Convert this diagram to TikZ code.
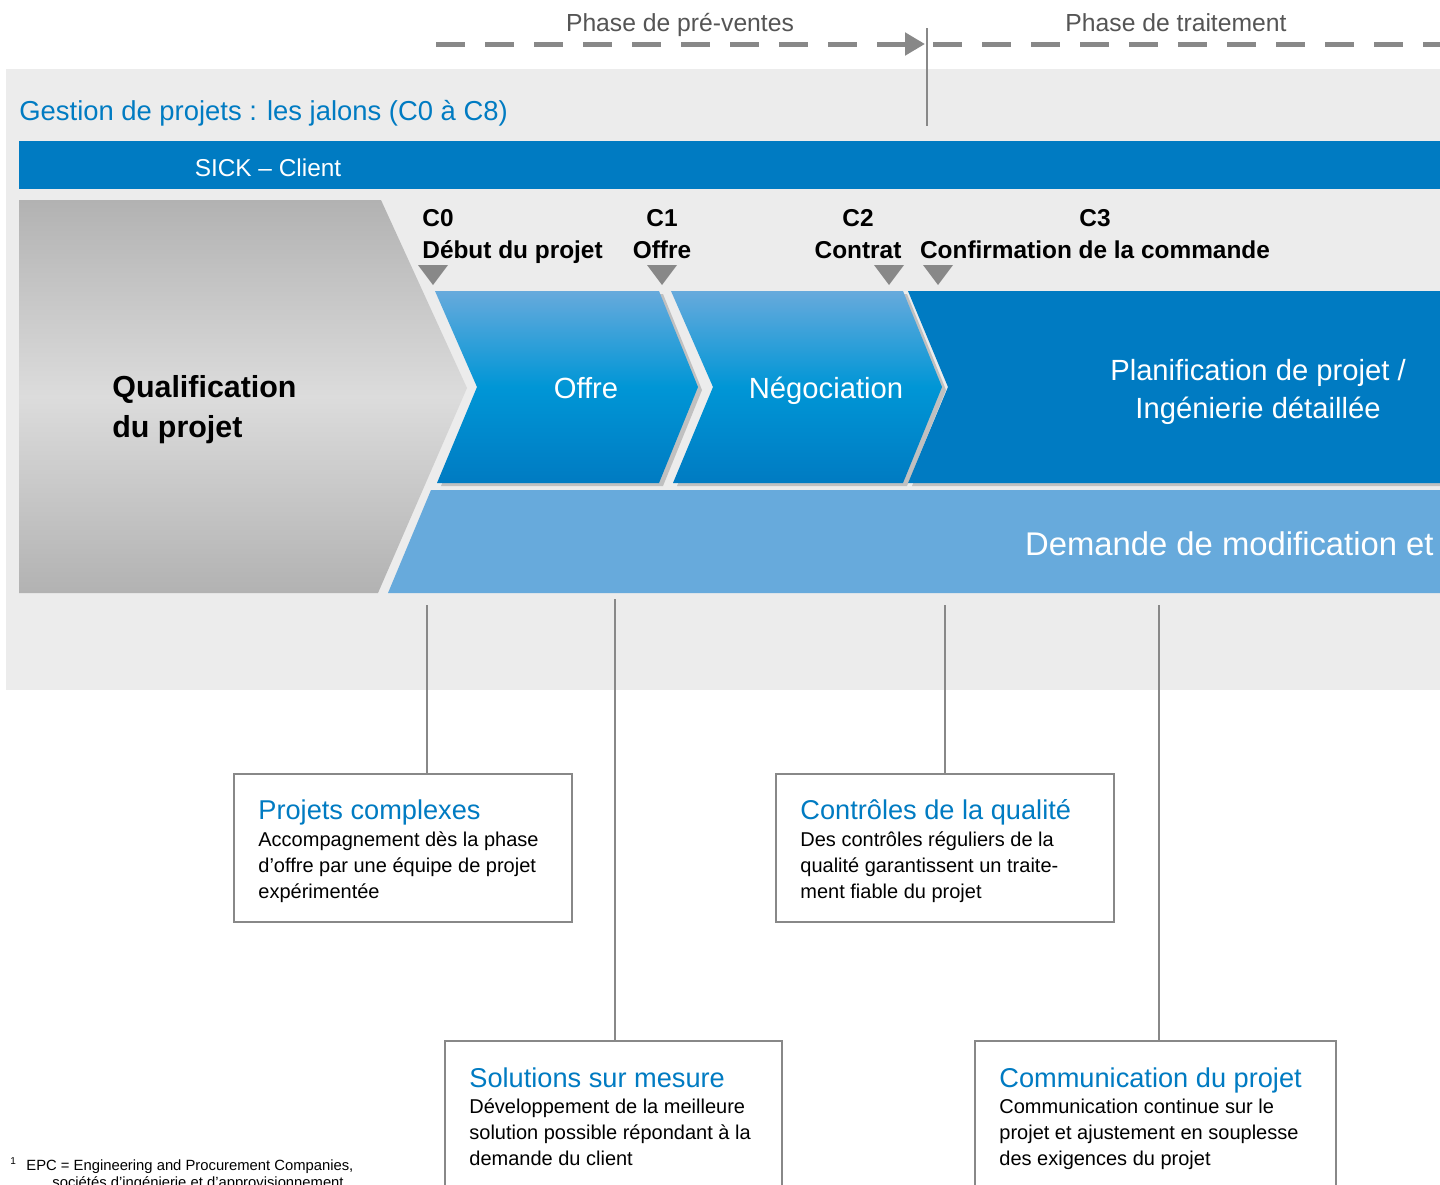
\documentclass[tikz,border=0pt]{standalone}
\usepackage{fontspec}
\setmainfont{Liberation Sans}
\usetikzlibrary{arrows.meta,shadows}
\definecolor{sickblue}{HTML}{007BC2}
\definecolor{lightblue}{HTML}{67AADC}
\definecolor{midblue}{HTML}{0096D6}
\definecolor{bggray}{HTML}{ECECEC}
\definecolor{linegray}{HTML}{888888}
\definecolor{textgray}{HTML}{555555}
\definecolor{qdark}{HTML}{B2B2B2}
\definecolor{qlight}{HTML}{DCDCDC}

\begin{document}
\begin{tikzpicture}[x=0.5pt,y=-0.5pt,
  lbl/.style={font=\fontsize{12.2}{14}\selectfont\bfseries,anchor=base,inner sep=0pt},
  conn/.style={draw=linegray,line width=1pt},
  box/.style={draw=linegray,line width=1.3pt,fill=white,inner sep=0pt,minimum height=74pt},
  boxhead/.style={anchor=base west,text=sickblue,font=\fontsize{13.6}{16}\selectfont,inner sep=0pt},
  boxtext/.style={anchor=base west,align=left,font=\fontsize{10}{13}\selectfont,inner sep=0pt},
  shad/.style={drop shadow={shadow xshift=2pt,shadow yshift=-1.5pt,fill=black!45,opacity=0.45}},
  arrowbox/.style={shad,top color=lightblue,bottom color=sickblue,middle color=midblue},
  big/.style={text=white,font=\fontsize{14.6}{19}\selectfont,inner sep=0pt,anchor=base}]
\path[use as bounding box,fill=white] (0,0) rectangle (1440,1184);
\clip (0,0) rectangle (1440,1184);

\coordinate (d0) at (436,44);
\coordinate (d1) at (925,44);
\coordinate (d2) at (933,44);
\coordinate (d3) at (1440,44);
\draw[linegray,line width=2.5pt,dash pattern=on 14.5pt off 10pt,-{Triangle[length=10pt,width=11pt]}] (d0) -- (d1);
\draw[linegray,line width=2.5pt,dash pattern=on 14.5pt off 10pt] (d2) -- (d3);
\node[text=textgray,font=\fontsize{12.35}{14}\selectfont,anchor=base,inner sep=0pt] (ph1) at (680,31) {Phase de pré-ventes};
\node[text=textgray,font=\fontsize{12.35}{14}\selectfont,anchor=base,inner sep=0pt] (ph2) at (1176,31) {Phase de traitement};

\fill[bggray] (6,69) rectangle (1440,690);
\coordinate (v0) at (927,28);
\coordinate (v1) at (927,126);
\draw[linegray,line width=1pt] (v0) -- (v1);

\node[anchor=base west,text=sickblue,font=\fontsize{13.7}{16}\selectfont,inner sep=0pt] (gp) at (19,120) {Gestion de projets : les jalons (C0 à C8)};
\fill[sickblue] (19,141) rectangle (1440,189);
\node[anchor=base,text=white,font=\fontsize{12.2}{14}\selectfont,inner sep=0pt] (sc) at (268,176) {SICK – Client};

\path[top color=qdark,bottom color=qdark,middle color=qlight] (19,200) -- (381,200) -- (467,388) -- (378,593) -- (19,593) -- cycle;
\node[anchor=base west,font=\fontsize{15.2}{20}\selectfont\bfseries,inner sep=0pt] (q1) at (112,397) {Qualification};
\node[anchor=base west,font=\fontsize{15.2}{20}\selectfont\bfseries,inner sep=0pt] (q2) at (112,437) {du projet};

\path[fill=lightblue] (431,490) -- (1440,490) -- (1440,593) -- (388,593) -- cycle;
\path[shad,fill=sickblue] (908,291) -- (1440,291) -- (1440,483) -- (908,483) -- (948,387) -- cycle;
\path[arrowbox] (671,291) -- (903,291) -- (942,387) -- (903,483) -- (673,483) -- (713,387) -- cycle;
\path[arrowbox] (435,291) -- (659,291) -- (698,387) -- (659,483) -- (437,483) -- (477,387) -- cycle;

\node[big] (of) at (586,398) {Offre};
\node[big] (ng) at (826,398) {Négociation};
\node[big] (pl1) at (1258,380) {Planification de projet /};
\node[big] (pl2) at (1258,418) {Ingénierie détaillée};
\node[text=white,font=\fontsize{16.4}{19}\selectfont,inner sep=0pt,anchor=base east] (dm) at (1434,555) {Demande de modification et};

\node[lbl,anchor=base west] (c0) at (422,226) {C0};
\node[lbl,anchor=base west] (c0t) at (422,258) {Début du projet};
\node[lbl] (c1) at (662,226) {C1};
\node[lbl] (c1t) at (662,258) {Offre};
\node[lbl] (c2) at (858,226) {C2};
\node[lbl] (c2t) at (858,258) {Contrat};
\node[lbl] (c3) at (1095,226) {C3};
\node[lbl] (c3t) at (1095,258) {Confirmation de la commande};
\foreach \x in {433,662,889,938}
  \fill[linegray] (\x-15,265) -- (\x+15,265) -- (\x,285) -- cycle;

\node[box,minimum width=169pt] (b1) at (403,848) {};
\node[boxhead] (h1) at (258,819) {Projets complexes};
\node[boxtext] (t1) at (258,898) {Accompagnement dès la phase\\d’offre par une équipe de projet\\expérimentée};

\node[box,minimum width=169pt] (b2) at (945,848) {};
\node[boxhead] (h2) at (800,819) {Contrôles de la qualité};
\node[boxtext] (t2) at (800,898) {Des contrôles réguliers de la\\qualité garantissent un traite-\\ment fiable du projet};

\node[box,minimum width=168.5pt] (b3) at (613.5,1115) {};
\node[boxhead] (h3) at (469,1087) {Solutions sur mesure};
\node[boxtext] (t3) at (469,1165) {Développement de la meilleure\\solution possible répondant à la\\demande du client};

\node[box,minimum width=180.5pt] (b4) at (1155.5,1115) {};
\node[boxhead] (h4) at (999,1087) {Communication du projet};
\node[boxtext] (t4) at (999,1165) {Communication continue sur le\\projet et ajustement en souplesse\\des exigences du projet};

\coordinate (k1) at (427,605);
\coordinate (k2) at (945,605);
\coordinate (k3) at (615,599);
\coordinate (k4) at (1159,605);
\draw[conn] (k1) -- (k1 |- b1.north);
\draw[conn] (k2) -- (k2 |- b2.north);
\draw[conn] (k3) -- (k3 |- b3.north);
\draw[conn] (k4) -- (k4 |- b4.north);

\node[anchor=base west,font=\fontsize{5}{6}\selectfont,inner sep=0pt] (fn0) at (10,1164) {1};
\node[anchor=base west,font=\fontsize{7.4}{9}\selectfont,inner sep=0pt] (fn1) at (26,1170) {EPC = Engineering and Procurement Companies,};
\node[anchor=base west,font=\fontsize{7.4}{9}\selectfont,inner sep=0pt] (fn2) at (52,1187) {sociétés d’ingénierie et d’approvisionnement};
\end{tikzpicture}
\end{document}
